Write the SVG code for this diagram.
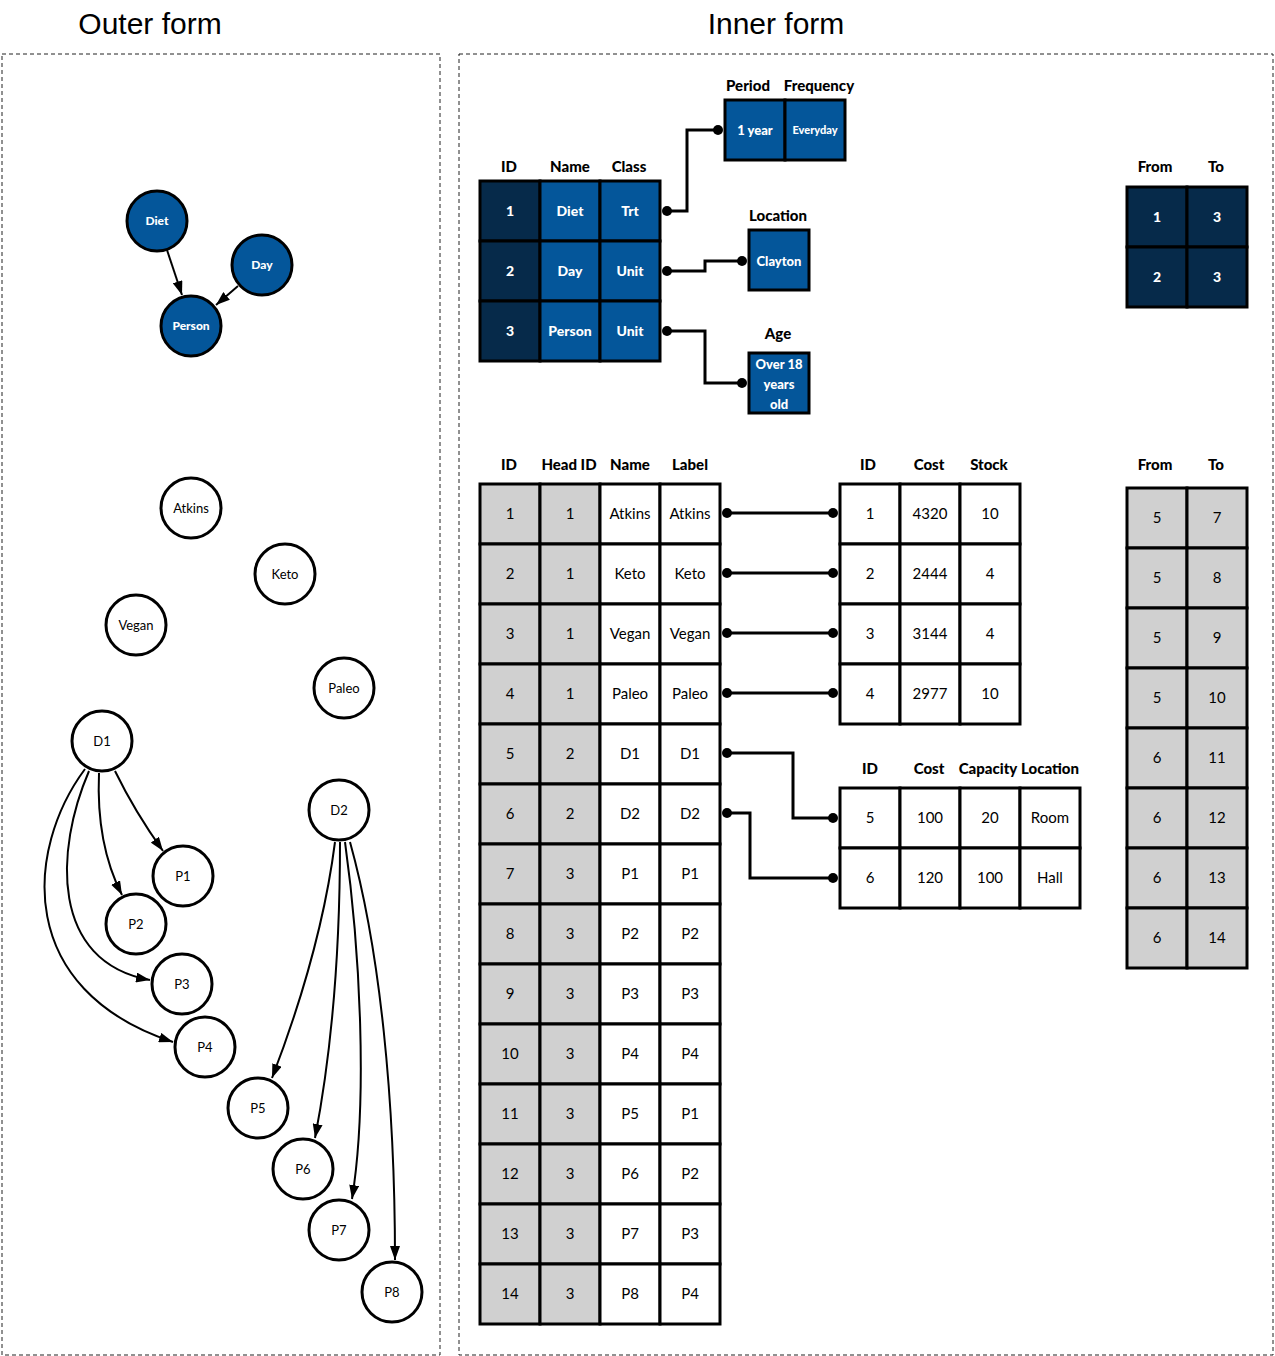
<svg xmlns="http://www.w3.org/2000/svg" width="1275" height="1356" viewBox="0 0 1275 1356">
<style>
.frame{fill:none;stroke:#222;stroke-width:1;stroke-dasharray:4,3}
.title{font-family:"Liberation Sans",Arial,sans-serif;font-size:30px;fill:#000;text-anchor:middle}
.c{stroke:#000;stroke-width:3}
.g{fill:#d0d0d0}.w{fill:#fff}.dk{fill:#062a4a}.bl{fill:#04569a}
.t{font-family:Lato,"Noto Sans",sans-serif;font-size:15px;fill:#000;text-anchor:middle}
.h{font-family:Lato,"Noto Sans",sans-serif;font-size:15px;font-weight:900;fill:#000;text-anchor:middle}
.tb{font-family:Lato,"Noto Sans",sans-serif;font-size:14px;font-weight:900;fill:#fff;text-anchor:middle}
.node{fill:#fff;stroke:#000;stroke-width:3}
.bnode{fill:#04569a;stroke:#000;stroke-width:3}
.nl{font-family:Lato,"Noto Sans",sans-serif;font-size:13px;fill:#000;text-anchor:middle}
.nb{font-family:Lato,"Noto Sans",sans-serif;font-size:12px;font-weight:900;fill:#fff;text-anchor:middle}
.edge{fill:none;stroke:#000;stroke-width:2}
.link{fill:none;stroke:#000;stroke-width:3}
.dot{fill:#000}
</style>
<defs>
<marker id="arr" viewBox="0 0 14 10" refX="14" refY="5" markerWidth="14" markerHeight="10" markerUnits="userSpaceOnUse" orient="auto">
<path d="M0,0 L14,5 L0,10 z" fill="#000"/>
</marker>
</defs>
<rect width="1275" height="1356" fill="#fff"/>

<g id="titles">
<text class="title" x="150" y="34">Outer form</text>
<text class="title" x="776" y="34">Inner form</text>
</g>
<g id="frames">
<rect class="frame" x="2" y="54" width="438" height="1301"/>
<rect class="frame" x="459" y="54" width="814" height="1301"/>
</g>

<g id="connectors">
<path class="edge" marker-end="url(#arr)" d="M167,250 L182,295"/>
<path class="edge" marker-end="url(#arr)" d="M238,286 L216,305"/>
<path class="edge" marker-end="url(#arr)" d="M115,771 Q135,812 163,851"/>
<path class="edge" marker-end="url(#arr)" d="M99,773 C97,820 104,860 122,895"/>
<path class="edge" marker-end="url(#arr)" d="M89,771 C55,850 50,962 150,980"/>
<path class="edge" marker-end="url(#arr)" d="M85,769 C25,850 15,990 173,1042"/>
<path class="edge" marker-end="url(#arr)" d="M335,842 C325,920 302,1000 272,1078"/>
<path class="edge" marker-end="url(#arr)" d="M340,842 C340,950 332,1050 315,1138"/>
<path class="edge" marker-end="url(#arr)" d="M345,842 C360,950 368,1100 352,1199"/>
<path class="edge" marker-end="url(#arr)" d="M350,842 C380,950 395,1100 395,1260"/>
<path class="link" d="M667,211 H687 V130 H718"/>
<path class="link" d="M667,271 H705 V261 H742"/>
<path class="link" d="M667,331 H705 V383 H742"/>
<path class="link" d="M727,513 H833"/>
<path class="link" d="M727,573 H833"/>
<path class="link" d="M727,633 H833"/>
<path class="link" d="M727,693 H833"/>
<path class="link" d="M727,753 H793 V818 H833"/>
<path class="link" d="M727,813 H750 V878 H833"/>
<circle class="dot" cx="667" cy="211" r="5"/><circle class="dot" cx="718" cy="130" r="5"/>
<circle class="dot" cx="667" cy="271" r="5"/><circle class="dot" cx="742" cy="261" r="5"/>
<circle class="dot" cx="667" cy="331" r="5"/><circle class="dot" cx="742" cy="383" r="5"/>
<circle class="dot" cx="727" cy="513" r="5"/><circle class="dot" cx="833" cy="513" r="5"/>
<circle class="dot" cx="727" cy="573" r="5"/><circle class="dot" cx="833" cy="573" r="5"/>
<circle class="dot" cx="727" cy="633" r="5"/><circle class="dot" cx="833" cy="633" r="5"/>
<circle class="dot" cx="727" cy="693" r="5"/><circle class="dot" cx="833" cy="693" r="5"/>
<circle class="dot" cx="727" cy="753" r="5"/><circle class="dot" cx="833" cy="818" r="5"/>
<circle class="dot" cx="727" cy="813" r="5"/><circle class="dot" cx="833" cy="878" r="5"/>
</g>

<g id="n-diet"><circle class="bnode" cx="157" cy="221" r="30"/><text class="nb" x="157" y="225">Diet</text></g>
<g id="n-day"><circle class="bnode" cx="262" cy="265" r="30"/><text class="nb" x="262" y="269">Day</text></g>
<g id="n-person"><circle class="bnode" cx="191" cy="326" r="30"/><text class="nb" x="191" y="330">Person</text></g>
<g id="n-atkins"><circle class="node" cx="191" cy="508" r="30"/><text class="nl" x="191" y="513">Atkins</text></g>
<g id="n-keto"><circle class="node" cx="285" cy="574" r="30"/><text class="nl" x="285" y="579">Keto</text></g>
<g id="n-vegan"><circle class="node" cx="136" cy="625" r="30"/><text class="nl" x="136" y="630">Vegan</text></g>
<g id="n-paleo"><circle class="node" cx="344" cy="688" r="30"/><text class="nl" x="344" y="693">Paleo</text></g>
<g id="n-d1"><circle class="node" cx="102" cy="741" r="30"/><text class="nl" x="102" y="746">D1</text></g>
<g id="n-d2"><circle class="node" cx="339" cy="810" r="30"/><text class="nl" x="339" y="815">D2</text></g>
<g id="n-p1"><circle class="node" cx="183" cy="876" r="30"/><text class="nl" x="183" y="881">P1</text></g>
<g id="n-p2"><circle class="node" cx="136" cy="924" r="30"/><text class="nl" x="136" y="929">P2</text></g>
<g id="n-p3"><circle class="node" cx="182" cy="984" r="30"/><text class="nl" x="182" y="989">P3</text></g>
<g id="n-p4"><circle class="node" cx="205" cy="1047" r="30"/><text class="nl" x="205" y="1052">P4</text></g>
<g id="n-p5"><circle class="node" cx="258" cy="1108" r="30"/><text class="nl" x="258" y="1113">P5</text></g>
<g id="n-p6"><circle class="node" cx="303" cy="1169" r="30"/><text class="nl" x="303" y="1174">P6</text></g>
<g id="n-p7"><circle class="node" cx="339" cy="1230" r="30"/><text class="nl" x="339" y="1235">P7</text></g>
<g id="n-p8"><circle class="node" cx="392" cy="1292" r="30"/><text class="nl" x="392" y="1297">P8</text></g>

<g id="t-head">
<text class="h" x="509" y="172">ID</text><text class="h" x="570" y="172">Name</text><text class="h" x="629" y="172">Class</text>
<rect class="c dk" x="480" y="181" width="60" height="60"/><rect class="c bl" x="540" y="181" width="60" height="60"/><rect class="c bl" x="600" y="181" width="60" height="60"/>
<rect class="c dk" x="480" y="241" width="60" height="60"/><rect class="c bl" x="540" y="241" width="60" height="60"/><rect class="c bl" x="600" y="241" width="60" height="60"/>
<rect class="c dk" x="480" y="301" width="60" height="60"/><rect class="c bl" x="540" y="301" width="60" height="60"/><rect class="c bl" x="600" y="301" width="60" height="60"/>
<text class="tb" x="510" y="216">1</text><text class="tb" x="570" y="216">Diet</text><text class="tb" x="630" y="216">Trt</text>
<text class="tb" x="510" y="276">2</text><text class="tb" x="570" y="276">Day</text><text class="tb" x="630" y="276">Unit</text>
<text class="tb" x="510" y="336">3</text><text class="tb" x="570" y="336">Person</text><text class="tb" x="630" y="336">Unit</text>
</g>
<g id="t-period">
<text class="h" x="748" y="91">Period</text><text class="h" x="819" y="91">Frequency</text>
<rect class="c bl" x="725" y="100" width="60" height="60"/><rect class="c bl" x="785" y="100" width="60" height="60"/>
<text class="tb" x="755" y="135" style="font-size:13px">1 year</text><text class="tb" x="815" y="134" style="font-size:11px">Everyday</text>
</g>
<g id="t-location">
<text class="h" x="778" y="221">Location</text>
<rect class="c bl" x="749" y="230" width="60" height="60"/>
<text class="tb" x="779" y="266" style="font-size:13px">Clayton</text>
</g>
<g id="t-age">
<text class="h" x="778" y="339">Age</text>
<rect class="c bl" x="749" y="353" width="60" height="60"/>
<text class="tb" x="779" y="369" style="font-size:13px">Over 18</text>
<text class="tb" x="779" y="389" style="font-size:13px">years</text>
<text class="tb" x="779" y="409" style="font-size:13px">old</text>
</g>
<g id="t-edges-head">
<text class="h" x="1155" y="172">From</text><text class="h" x="1216" y="172">To</text>
<rect class="c dk" x="1127" y="187" width="60" height="60"/><rect class="c dk" x="1187" y="187" width="60" height="60"/>
<rect class="c dk" x="1127" y="247" width="60" height="60"/><rect class="c dk" x="1187" y="247" width="60" height="60"/>
<text class="tb" x="1157" y="222">1</text><text class="tb" x="1217" y="222">3</text>
<text class="tb" x="1157" y="282">2</text><text class="tb" x="1217" y="282">3</text>
</g>

<g id="t-main">
<text class="h" x="509" y="470">ID</text><text class="h" x="569" y="470">Head ID</text><text class="h" x="630" y="470">Name</text><text class="h" x="690" y="470">Label</text>
<g>
<rect class="c g" x="480" y="484" width="60" height="60"/><rect class="c g" x="540" y="484" width="60" height="60"/><rect class="c w" x="600" y="484" width="60" height="60"/><rect class="c w" x="660" y="484" width="60" height="60"/>
<rect class="c g" x="480" y="544" width="60" height="60"/><rect class="c g" x="540" y="544" width="60" height="60"/><rect class="c w" x="600" y="544" width="60" height="60"/><rect class="c w" x="660" y="544" width="60" height="60"/>
<rect class="c g" x="480" y="604" width="60" height="60"/><rect class="c g" x="540" y="604" width="60" height="60"/><rect class="c w" x="600" y="604" width="60" height="60"/><rect class="c w" x="660" y="604" width="60" height="60"/>
<rect class="c g" x="480" y="664" width="60" height="60"/><rect class="c g" x="540" y="664" width="60" height="60"/><rect class="c w" x="600" y="664" width="60" height="60"/><rect class="c w" x="660" y="664" width="60" height="60"/>
<rect class="c g" x="480" y="724" width="60" height="60"/><rect class="c g" x="540" y="724" width="60" height="60"/><rect class="c w" x="600" y="724" width="60" height="60"/><rect class="c w" x="660" y="724" width="60" height="60"/>
<rect class="c g" x="480" y="784" width="60" height="60"/><rect class="c g" x="540" y="784" width="60" height="60"/><rect class="c w" x="600" y="784" width="60" height="60"/><rect class="c w" x="660" y="784" width="60" height="60"/>
<rect class="c g" x="480" y="844" width="60" height="60"/><rect class="c g" x="540" y="844" width="60" height="60"/><rect class="c w" x="600" y="844" width="60" height="60"/><rect class="c w" x="660" y="844" width="60" height="60"/>
<rect class="c g" x="480" y="904" width="60" height="60"/><rect class="c g" x="540" y="904" width="60" height="60"/><rect class="c w" x="600" y="904" width="60" height="60"/><rect class="c w" x="660" y="904" width="60" height="60"/>
<rect class="c g" x="480" y="964" width="60" height="60"/><rect class="c g" x="540" y="964" width="60" height="60"/><rect class="c w" x="600" y="964" width="60" height="60"/><rect class="c w" x="660" y="964" width="60" height="60"/>
<rect class="c g" x="480" y="1024" width="60" height="60"/><rect class="c g" x="540" y="1024" width="60" height="60"/><rect class="c w" x="600" y="1024" width="60" height="60"/><rect class="c w" x="660" y="1024" width="60" height="60"/>
<rect class="c g" x="480" y="1084" width="60" height="60"/><rect class="c g" x="540" y="1084" width="60" height="60"/><rect class="c w" x="600" y="1084" width="60" height="60"/><rect class="c w" x="660" y="1084" width="60" height="60"/>
<rect class="c g" x="480" y="1144" width="60" height="60"/><rect class="c g" x="540" y="1144" width="60" height="60"/><rect class="c w" x="600" y="1144" width="60" height="60"/><rect class="c w" x="660" y="1144" width="60" height="60"/>
<rect class="c g" x="480" y="1204" width="60" height="60"/><rect class="c g" x="540" y="1204" width="60" height="60"/><rect class="c w" x="600" y="1204" width="60" height="60"/><rect class="c w" x="660" y="1204" width="60" height="60"/>
<rect class="c g" x="480" y="1264" width="60" height="60"/><rect class="c g" x="540" y="1264" width="60" height="60"/><rect class="c w" x="600" y="1264" width="60" height="60"/><rect class="c w" x="660" y="1264" width="60" height="60"/>
</g>
<text class="t" x="510" y="519">1</text><text class="t" x="570" y="519">1</text><text class="t" x="630" y="519">Atkins</text><text class="t" x="690" y="519">Atkins</text>
<text class="t" x="510" y="579">2</text><text class="t" x="570" y="579">1</text><text class="t" x="630" y="579">Keto</text><text class="t" x="690" y="579">Keto</text>
<text class="t" x="510" y="639">3</text><text class="t" x="570" y="639">1</text><text class="t" x="630" y="639">Vegan</text><text class="t" x="690" y="639">Vegan</text>
<text class="t" x="510" y="699">4</text><text class="t" x="570" y="699">1</text><text class="t" x="630" y="699">Paleo</text><text class="t" x="690" y="699">Paleo</text>
<text class="t" x="510" y="759">5</text><text class="t" x="570" y="759">2</text><text class="t" x="630" y="759">D1</text><text class="t" x="690" y="759">D1</text>
<text class="t" x="510" y="819">6</text><text class="t" x="570" y="819">2</text><text class="t" x="630" y="819">D2</text><text class="t" x="690" y="819">D2</text>
<text class="t" x="510" y="879">7</text><text class="t" x="570" y="879">3</text><text class="t" x="630" y="879">P1</text><text class="t" x="690" y="879">P1</text>
<text class="t" x="510" y="939">8</text><text class="t" x="570" y="939">3</text><text class="t" x="630" y="939">P2</text><text class="t" x="690" y="939">P2</text>
<text class="t" x="510" y="999">9</text><text class="t" x="570" y="999">3</text><text class="t" x="630" y="999">P3</text><text class="t" x="690" y="999">P3</text>
<text class="t" x="510" y="1059">10</text><text class="t" x="570" y="1059">3</text><text class="t" x="630" y="1059">P4</text><text class="t" x="690" y="1059">P4</text>
<text class="t" x="510" y="1119">11</text><text class="t" x="570" y="1119">3</text><text class="t" x="630" y="1119">P5</text><text class="t" x="690" y="1119">P1</text>
<text class="t" x="510" y="1179">12</text><text class="t" x="570" y="1179">3</text><text class="t" x="630" y="1179">P6</text><text class="t" x="690" y="1179">P2</text>
<text class="t" x="510" y="1239">13</text><text class="t" x="570" y="1239">3</text><text class="t" x="630" y="1239">P7</text><text class="t" x="690" y="1239">P3</text>
<text class="t" x="510" y="1299">14</text><text class="t" x="570" y="1299">3</text><text class="t" x="630" y="1299">P8</text><text class="t" x="690" y="1299">P4</text>
</g>

<g id="t-stock">
<text class="h" x="868" y="470">ID</text><text class="h" x="929" y="470">Cost</text><text class="h" x="989" y="470">Stock</text>
<rect class="c w" x="840" y="484" width="60" height="60"/><rect class="c w" x="900" y="484" width="60" height="60"/><rect class="c w" x="960" y="484" width="60" height="60"/>
<rect class="c w" x="840" y="544" width="60" height="60"/><rect class="c w" x="900" y="544" width="60" height="60"/><rect class="c w" x="960" y="544" width="60" height="60"/>
<rect class="c w" x="840" y="604" width="60" height="60"/><rect class="c w" x="900" y="604" width="60" height="60"/><rect class="c w" x="960" y="604" width="60" height="60"/>
<rect class="c w" x="840" y="664" width="60" height="60"/><rect class="c w" x="900" y="664" width="60" height="60"/><rect class="c w" x="960" y="664" width="60" height="60"/>
<text class="t" x="870" y="519">1</text><text class="t" x="930" y="519">4320</text><text class="t" x="990" y="519">10</text>
<text class="t" x="870" y="579">2</text><text class="t" x="930" y="579">2444</text><text class="t" x="990" y="579">4</text>
<text class="t" x="870" y="639">3</text><text class="t" x="930" y="639">3144</text><text class="t" x="990" y="639">4</text>
<text class="t" x="870" y="699">4</text><text class="t" x="930" y="699">2977</text><text class="t" x="990" y="699">10</text>
</g>

<g id="t-location2">
<text class="h" x="870" y="774">ID</text><text class="h" x="929" y="774">Cost</text><text class="h" x="988" y="774">Capacity</text><text class="h" x="1050" y="774">Location</text>
<rect class="c w" x="840" y="788" width="60" height="60"/><rect class="c w" x="900" y="788" width="60" height="60"/><rect class="c w" x="960" y="788" width="60" height="60"/><rect class="c w" x="1020" y="788" width="60" height="60"/>
<rect class="c w" x="840" y="848" width="60" height="60"/><rect class="c w" x="900" y="848" width="60" height="60"/><rect class="c w" x="960" y="848" width="60" height="60"/><rect class="c w" x="1020" y="848" width="60" height="60"/>
<text class="t" x="870" y="823">5</text><text class="t" x="930" y="823">100</text><text class="t" x="990" y="823">20</text><text class="t" x="1050" y="823">Room</text>
<text class="t" x="870" y="883">6</text><text class="t" x="930" y="883">120</text><text class="t" x="990" y="883">100</text><text class="t" x="1050" y="883">Hall</text>
</g>

<g id="t-edges-main">
<text class="h" x="1155" y="470">From</text><text class="h" x="1216" y="470">To</text>
<rect class="c g" x="1127" y="488" width="60" height="60"/><rect class="c g" x="1187" y="488" width="60" height="60"/>
<rect class="c g" x="1127" y="548" width="60" height="60"/><rect class="c g" x="1187" y="548" width="60" height="60"/>
<rect class="c g" x="1127" y="608" width="60" height="60"/><rect class="c g" x="1187" y="608" width="60" height="60"/>
<rect class="c g" x="1127" y="668" width="60" height="60"/><rect class="c g" x="1187" y="668" width="60" height="60"/>
<rect class="c g" x="1127" y="728" width="60" height="60"/><rect class="c g" x="1187" y="728" width="60" height="60"/>
<rect class="c g" x="1127" y="788" width="60" height="60"/><rect class="c g" x="1187" y="788" width="60" height="60"/>
<rect class="c g" x="1127" y="848" width="60" height="60"/><rect class="c g" x="1187" y="848" width="60" height="60"/>
<rect class="c g" x="1127" y="908" width="60" height="60"/><rect class="c g" x="1187" y="908" width="60" height="60"/>
<text class="t" x="1157" y="523">5</text><text class="t" x="1217" y="523">7</text>
<text class="t" x="1157" y="583">5</text><text class="t" x="1217" y="583">8</text>
<text class="t" x="1157" y="643">5</text><text class="t" x="1217" y="643">9</text>
<text class="t" x="1157" y="703">5</text><text class="t" x="1217" y="703">10</text>
<text class="t" x="1157" y="763">6</text><text class="t" x="1217" y="763">11</text>
<text class="t" x="1157" y="823">6</text><text class="t" x="1217" y="823">12</text>
<text class="t" x="1157" y="883">6</text><text class="t" x="1217" y="883">13</text>
<text class="t" x="1157" y="943">6</text><text class="t" x="1217" y="943">14</text>
</g>
</svg>
